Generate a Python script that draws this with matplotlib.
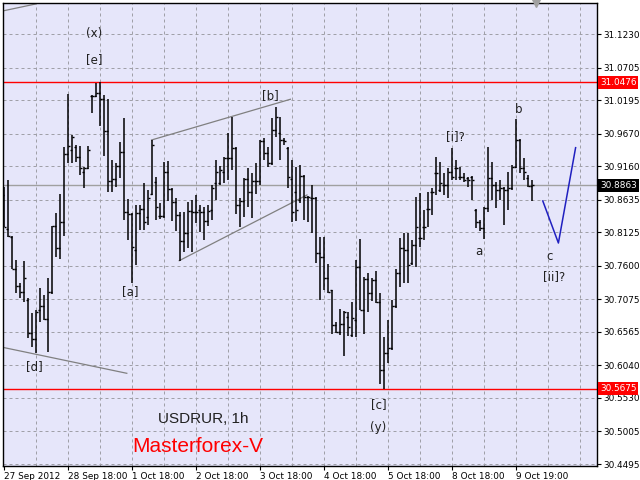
import numpy as np
import matplotlib
matplotlib.use("Agg")
import matplotlib.pyplot as plt
from matplotlib.transforms import blended_transform_factory

# ---------------- data (USDRUR, 1h) ----------------
bar_open = [30.871, 30.818, 30.805, 30.755, 30.729, 30.719, 30.707, 30.655, 30.646, 30.691,
            30.697, 30.677, 30.719, 30.823, 30.788, 30.829, 30.936, 30.942, 30.946, 30.931,
            30.907, 30.914, 31.026, 31.026, 31.031, 31.022, 30.972, 30.893, 30.896, 30.917,
            30.939, 30.845, 30.841, 30.785, 30.843, 30.849, 30.837, 30.873, 30.892, 30.838,
            30.838, 30.907, 30.881, 30.860, 30.840, 30.799, 30.812, 30.846, 30.845, 30.848,
            30.845, 30.830, 30.848, 30.890, 30.890, 30.907, 30.929, 30.929, 30.945, 30.856,
            30.862, 30.896, 30.876, 30.893, 30.893, 30.956, 30.937, 30.921, 30.973, 30.968,
            30.957, 30.945, 30.896, 30.876, 30.863, 30.901, 30.868, 30.867, 30.867, 30.780,
            30.774, 30.741, 30.722, 30.668, 30.657, 30.669, 30.680, 30.652, 30.675, 30.758,
            30.691, 30.740, 30.718, 30.738, 30.704, 30.597, 30.624, 30.632, 30.697, 30.749,
            30.788, 30.785, 30.765, 30.793, 30.804, 30.821, 30.849, 30.876, 30.906, 30.879,
            30.887, 30.887, 30.907, 30.914, 30.899, 30.899, 30.898, 30.899, 30.848, 30.829,
            30.820, 30.851, 30.898, 30.887, 30.879, 30.882, 30.879, 30.882, 30.915, 30.957,
            30.914, 30.898, 30.885]
bar_high = [30.884, 30.895, 30.807, 30.769, 30.733, 30.768, 30.710, 30.686, 30.691, 30.726,
            30.715, 30.741, 30.823, 30.843, 30.873, 30.946, 31.030, 30.965, 30.950, 30.948,
            30.915, 30.948, 31.028, 31.046, 31.0476, 31.028, 31.022, 30.926, 30.921, 30.954,
            30.992, 30.865, 30.843, 30.856, 30.856, 30.890, 30.879, 30.957, 30.899, 30.859,
            30.923, 30.925, 30.882, 30.867, 30.845, 30.845, 30.860, 30.863, 30.871, 30.856,
            30.852, 30.856, 30.887, 30.926, 30.917, 30.931, 30.968, 30.994, 30.946, 30.867,
            30.898, 30.914, 30.906, 30.921, 30.957, 30.961, 30.946, 30.992, 31.009, 30.994,
            30.961, 30.946, 30.926, 30.915, 30.918, 30.903, 30.870, 30.887, 30.868, 30.805,
            30.805, 30.763, 30.722, 30.672, 30.693, 30.689, 30.688, 30.704, 30.769, 30.802,
            30.743, 30.749, 30.741, 30.752, 30.718, 30.649, 30.675, 30.707, 30.755, 30.804,
            30.812, 30.812, 30.801, 30.868, 30.874, 30.848, 30.876, 30.882, 30.931, 30.923,
            30.906, 30.914, 30.945, 30.926, 30.915, 30.906, 30.899, 30.901, 30.849, 30.832,
            30.852, 30.946, 30.923, 30.892, 30.895, 30.884, 30.907, 30.918, 30.990, 30.959,
            30.929, 30.903, 30.895]
bar_low = [30.821, 30.805, 30.755, 30.718, 30.710, 30.704, 30.647, 30.633, 30.624, 30.672,
           30.675, 30.625, 30.716, 30.774, 30.771, 30.807, 30.921, 30.921, 30.923, 30.903,
           30.882, 30.912, 31.000, 31.025, 30.979, 30.932, 30.876, 30.876, 30.884, 30.898,
           30.832, 30.801, 30.733, 30.762, 30.816, 30.816, 30.824, 30.871, 30.832, 30.834,
           30.835, 30.862, 30.830, 30.815, 30.768, 30.782, 30.788, 30.782, 30.827, 30.813,
           30.801, 30.823, 30.832, 30.863, 30.887, 30.890, 30.895, 30.910, 30.841, 30.821,
           30.837, 30.852, 30.835, 30.873, 30.887, 30.926, 30.915, 30.918, 30.962, 30.926,
           30.950, 30.882, 30.829, 30.830, 30.859, 30.832, 30.829, 30.812, 30.765, 30.707,
           30.722, 30.718, 30.653, 30.655, 30.652, 30.619, 30.650, 30.649, 30.649, 30.691,
           30.653, 30.688, 30.705, 30.702, 30.575, 30.5675, 30.608, 30.628, 30.694, 30.727,
           30.733, 30.733, 30.762, 30.758, 30.790, 30.801, 30.821, 30.840, 30.871, 30.876,
           30.871, 30.867, 30.895, 30.895, 30.895, 30.892, 30.884, 30.863, 30.819, 30.815,
           30.802, 30.845, 30.863, 30.851, 30.863, 30.824, 30.848, 30.879, 30.914, 30.906,
           30.895, 30.884, 30.862]
bar_close = [30.821, 30.807, 30.755, 30.729, 30.719, 30.741, 30.655, 30.646, 30.688, 30.697,
             30.677, 30.719, 30.823, 30.788, 30.829, 30.936, 30.948, 30.962, 30.931, 30.914,
             30.914, 30.942, 31.026, 31.031, 31.022, 30.972, 30.893, 30.896, 30.917, 30.939,
             30.845, 30.841, 30.790, 30.843, 30.849, 30.829, 30.867, 30.950, 30.852, 30.838,
             30.907, 30.881, 30.860, 30.840, 30.799, 30.812, 30.846, 30.845, 30.845, 30.845,
             30.830, 30.846, 30.882, 30.907, 30.910, 30.929, 30.929, 30.945, 30.856, 30.862,
             30.896, 30.876, 30.893, 30.893, 30.956, 30.937, 30.921, 30.973, 30.994, 30.957,
             30.956, 30.899, 30.845, 30.848, 30.901, 30.868, 30.868, 30.867, 30.780, 30.774,
             30.741, 30.719, 30.668, 30.657, 30.669, 30.688, 30.664, 30.678, 30.758, 30.691,
             30.740, 30.718, 30.738, 30.704, 30.597, 30.624, 30.632, 30.697, 30.749, 30.788,
             30.785, 30.762, 30.793, 30.821, 30.804, 30.821, 30.849, 30.876, 30.906, 30.890,
             30.887, 30.907, 30.899, 30.914, 30.899, 30.895, 30.895, 30.895, 30.829, 30.820,
             30.851, 30.898, 30.887, 30.879, 30.882, 30.879, 30.882, 30.915, 30.957, 30.914,
             30.907, 30.885, 30.8863]

high_level = 31.0476
low_level = 30.5675
last_price = 30.8863

y_ticks = [31.1230, 31.0705, 31.0195, 30.9670, 30.9160, 30.8635, 30.8125,
           30.7600, 30.7075, 30.6565, 30.6040, 30.5530, 30.5005, 30.4495]
x_tick_pos = [0, 16, 32, 48, 64, 80, 96, 112, 128]
x_tick_labels = ["27 Sep 2012", "28 Sep 18:00", "1 Oct 18:00", "2 Oct 18:00",
                 "3 Oct 18:00", "4 Oct 18:00", "5 Oct 18:00", "8 Oct 18:00", "9 Oct 19:00"]

# wave-count trend lines (bar index, price)
line_top_x, line_top_y = [-0.33, 7.9], [31.1596, 31.1705]
line_d_x, line_d_y = [-0.33, 30.7], [30.6324, 30.5917]
chan_up_x, chan_up_y = [36.9, 71.6], [30.9574, 31.0212]
chan_lo_x, chan_lo_y = [43.8, 75.75], [30.7682, 30.8712]
fcst_x, fcst_y = [134.7, 138.6, 142.9], [30.8618, 30.7959, 30.9453]

wave_labels = [("(x)", 22.6, 31.1246), ("[e]", 22.6, 31.0839), ("[b]", 66.5, 31.0263),
               ("[a]", 31.5, 30.7196), ("[d]", 7.6, 30.6020), ("[i]?", 112.75, 30.9625),
               ("b", 128.6, 31.0044), ("a", 118.6, 30.7823), ("c", 136.5, 30.7744),
               ("[ii]?", 137.6, 30.7431), ("[c]", 93.6, 30.5420), ("(y)", 93.6, 30.5064)]

# ---------------- figure ----------------
W, H = 640, 480
fig = plt.figure(figsize=(6.4, 4.8), dpi=100)
fig.patch.set_facecolor("white")
ax = fig.add_axes([2.7 / W, 1 - 466 / H, 594 / W, (466 - 3.3) / H])
ax.set_facecolor("#E6E6FA")

grid_kw = dict(color="#a0a0a8", lw=0.72, ls=(0, (3, 3)), zorder=0)
for xg in range(8, 148, 8):
    ax.axvline(xg, **grid_kw)
for yg in y_ticks:
    ax.axhline(yg, **grid_kw)

xs = np.arange(len(bar_close))
ax.vlines(xs, bar_low, bar_high, color="black", lw=1.1, zorder=3)
ax.hlines(bar_open, xs - 0.55, xs, color="black", lw=1.0, zorder=3)
ax.hlines(bar_close, xs, xs + 0.55, color="black", lw=1.0, zorder=3)

ax.axhline(high_level, color="#ff0000", lw=1.0, zorder=2)
ax.axhline(low_level, color="#ff0000", lw=1.0, zorder=2)
ax.axhline(last_price, color="#a0a0a0", lw=1.0, zorder=1)

tl_kw = dict(color="#808080", lw=0.9, zorder=2)
ax.plot(line_top_x, line_top_y, **tl_kw)
ax.plot(line_d_x, line_d_y, **tl_kw)
ax.plot(chan_up_x, chan_up_y, **tl_kw)
ax.plot(chan_lo_x, chan_lo_y, **tl_kw)
ax.plot(fcst_x, fcst_y, color="#2020c0", lw=1.1, zorder=4)

for txt, xi, yi in wave_labels:
    ax.text(xi, yi, txt, ha="center", va="center", fontsize=8.5,
            family="DejaVu Sans", color="#202020", zorder=5)

ax.text(49.8, 30.5196, "USDRUR, 1h", ha="center", va="center", fontsize=11,
        family="Liberation Sans", color="#202020")
ax.text(48.4, 30.4766, "Masterforex-V", ha="center", va="center", fontsize=15,
        family="Liberation Sans", color="#ff0000")

ax.set_xlim(-0.325, 148.175)
ax.set_ylim(30.4464, 31.1716)

ax.yaxis.tick_right()
ax.set_yticks(y_ticks)
ax.set_yticklabels([f"{v:.4f}" for v in y_ticks])
ax.set_xticks(x_tick_pos)
ax.set_xticklabels(x_tick_labels)
for lbl in ax.get_xticklabels():
    lbl.set_ha("left")
ax.tick_params(axis="y", direction="out", length=3, width=0.8, pad=1.5,
               labelsize=6.4, colors="black")
ax.tick_params(axis="x", direction="out", length=3, width=0.8, pad=1.5,
               labelsize=6.4, colors="black")
for sp in ax.spines.values():
    sp.set_color("black")
    sp.set_linewidth(1.0)

# price boxes on the right scale
trans = blended_transform_factory(ax.transAxes, ax.transData)
for val, bg in [(high_level, "#ff0000"), (last_price, "#000000"), (low_level, "#ff0000")]:
    ax.text(1.0055, val, f"{val:.4f}", transform=trans, ha="left", va="center",
            fontsize=6.4, color="white", clip_on=False, zorder=10,
            bbox=dict(facecolor=bg, edgecolor="none", boxstyle="square,pad=0.22"))

# chart-shift marker at top
ax.plot([133], [31.1716], marker="v", markersize=6, color="#a0a0a0",
        clip_on=False, zorder=6, transform=ax.transData)

fig.savefig("out.png", dpi=100, facecolor=fig.get_facecolor())
